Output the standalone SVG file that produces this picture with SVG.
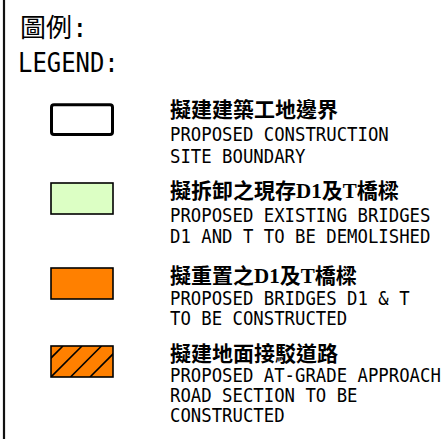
<svg xmlns="http://www.w3.org/2000/svg" width="446" height="439" viewBox="0 0 446 439">
<style>
.mono{font-family:"DejaVu Sans Mono","Liberation Mono",monospace;font-size:20px;fill:#000}
.cjk{font-family:"Liberation Serif","Noto Sans CJK TC",serif;font-size:21px;font-weight:bold;fill:#000}
.sw{stroke:#000;stroke-width:1.6}
</style>
<defs>
<clipPath id="c4"><rect x="51" y="346" width="62" height="31"/></clipPath>
</defs>
<rect width="446" height="439" fill="#fff"/>
<line x1="4" y1="0" x2="4" y2="439" stroke="#111" stroke-width="2.2"/>
<g id="title">
<text x="20" y="37" font-family="Noto Sans CJK TC,sans-serif" font-size="26" fill="#000">圖例<tspan font-family="DejaVu Sans Mono,monospace">:</tspan></text>
<text transform="translate(18 72) scale(0.92 1)" font-family="DejaVu Sans Mono,monospace" font-size="26" fill="#000">LEGEND:</text>
</g>
<g id="item1">
<rect x="51.5" y="104.8" width="61" height="29.7" rx="2.5" fill="#fff" stroke="#000" stroke-width="3"/>
<text class="cjk" x="170" y="117">擬建建築工地邊界</text>
<text class="mono" transform="translate(170 141) scale(0.866 1)">PROPOSED CONSTRUCTION</text>
<text class="mono" transform="translate(170 163) scale(0.866 1)">SITE BOUNDARY</text>
</g>
<g id="item2">
<rect class="sw" x="51" y="183" width="62" height="31" fill="#dcffc4"/>
<text class="cjk" x="170" y="198">擬拆卸之現存D1及T橋樑</text>
<text class="mono" transform="translate(170 222) scale(0.866 1)">PROPOSED EXISTING BRIDGES</text>
<text class="mono" transform="translate(170 243) scale(0.866 1)">D1 AND T TO BE DEMOLISHED</text>
</g>
<g id="item3">
<rect class="sw" x="51" y="268" width="62" height="31" fill="#ff8000"/>
<text class="cjk" x="170" y="283">擬重置之D1及T橋樑</text>
<text class="mono" transform="translate(170 305) scale(0.866 1)">PROPOSED BRIDGES D1 &amp; T</text>
<text class="mono" transform="translate(170 325) scale(0.866 1)">TO BE CONSTRUCTED</text>
</g>
<g id="item4">
<rect x="51" y="346" width="62" height="31" fill="#ff8000"/>
<g clip-path="url(#c4)" stroke="#000" stroke-width="1.6">
<line x1="63" y1="346" x2="32" y2="377"/>
<line x1="82" y1="346" x2="51" y2="377"/>
<line x1="101.5" y1="346" x2="70.5" y2="377"/>
<line x1="121" y1="346" x2="90" y2="377"/>
</g>
<rect class="sw" x="51" y="346" width="62" height="31" fill="none"/>
<text class="cjk" x="170" y="361">擬建地面接駁道路</text>
<text class="mono" transform="translate(170 382) scale(0.866 1)">PROPOSED AT-GRADE APPROACH</text>
<text class="mono" transform="translate(170 402) scale(0.866 1)">ROAD SECTION TO BE</text>
<text class="mono" transform="translate(170 422) scale(0.866 1)">CONSTRUCTED</text>
</g>
</svg>
